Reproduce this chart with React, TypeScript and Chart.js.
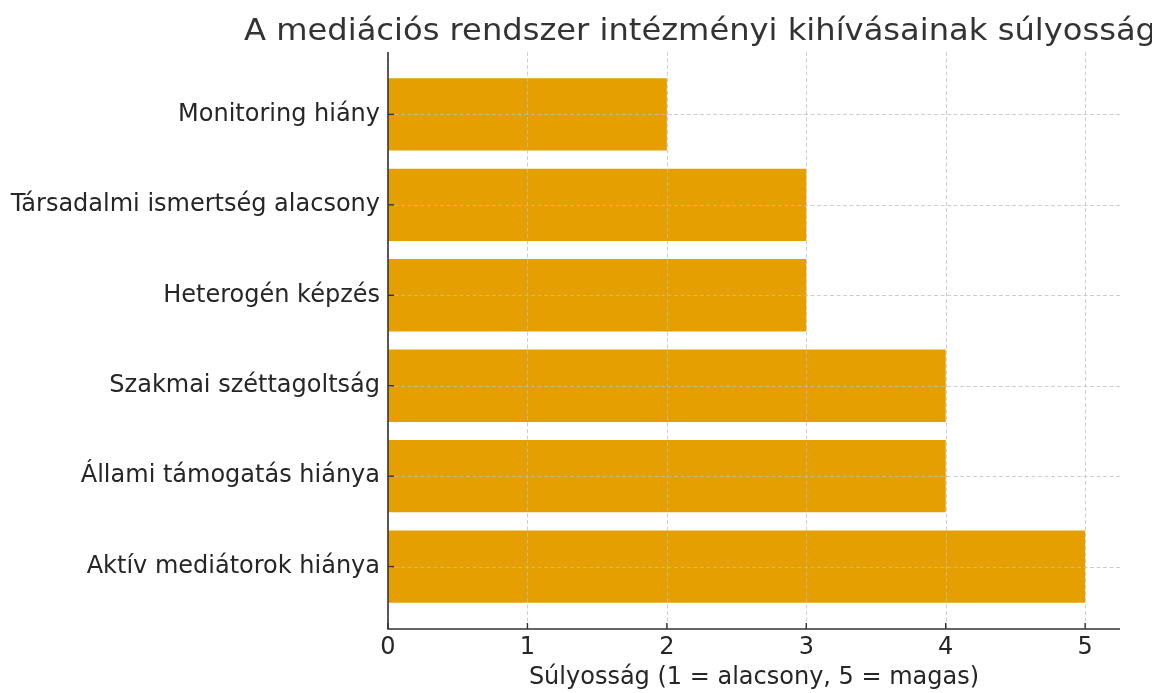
import React, { useEffect, useRef } from "react";
import { Chart, registerables } from "chart.js";

Chart.register(...registerables);

const categories = [
  "Monitoring hiány",
  "Társadalmi ismertség alacsony",
  "Heterogén képzés",
  "Szakmai széttagoltság",
  "Állami támogatás hiánya",
  "Aktív mediátorok hiánya",
];
const severity = [2, 3, 3, 4, 4, 5];
const xTickValues = [0, 1, 2, 3, 4, 5];
const titleText = "A mediációs rendszer intézményi kihívásainak súlyossága";
const xAxisTitle = "Súlyosság (1 = alacsony, 5 = magas)";

const FONT = "'DejaVu Sans', sans-serif";
const BAR_COLOR = "#E69F00";
const TEXT_COLOR = "#262626";

const overlayPlugin = {
  id: "overlay",
  afterDatasetsDraw(chart: any) {
    const { ctx, chartArea, scales } = chart;
    const xs = scales.x;
    const ys = scales.y;
    ctx.save();
    // dashed grid on top of bars
    ctx.strokeStyle = "rgba(190,190,190,0.75)";
    ctx.lineWidth = 1;
    ctx.setLineDash([4, 2.5]);
    xTickValues.forEach((v) => {
      const px = Math.round(xs.getPixelForValue(v)) + 0.5;
      ctx.beginPath();
      ctx.moveTo(px, chartArea.top);
      ctx.lineTo(px, chartArea.bottom);
      ctx.stroke();
    });
    categories.forEach((_, i) => {
      const py = Math.round(ys.getPixelForValue(i)) + 0.5;
      ctx.beginPath();
      ctx.moveTo(chartArea.left, py);
      ctx.lineTo(chartArea.right, py);
      ctx.stroke();
    });
    ctx.setLineDash([]);
    // spines
    ctx.strokeStyle = "#333333";
    ctx.lineWidth = 1.6;
    ctx.beginPath();
    ctx.moveTo(chartArea.left, chartArea.top);
    ctx.lineTo(chartArea.left, chartArea.bottom);
    ctx.lineTo(chartArea.right, chartArea.bottom);
    ctx.stroke();
    // inward ticks
    ctx.lineWidth = 1.4;
    xTickValues.forEach((v) => {
      const px = xs.getPixelForValue(v);
      ctx.beginPath();
      ctx.moveTo(px, chartArea.bottom);
      ctx.lineTo(px, chartArea.bottom - 6);
      ctx.stroke();
    });
    categories.forEach((_, i) => {
      const py = ys.getPixelForValue(i);
      ctx.beginPath();
      ctx.moveTo(chartArea.left, py);
      ctx.lineTo(chartArea.left + 6, py);
      ctx.stroke();
    });
    // title (clipped at right edge as in the reference)
    ctx.fillStyle = "#333333";
    ctx.font = `30px ${FONT}`;
    ctx.textAlign = "left";
    ctx.textBaseline = "alphabetic";
    const visible = titleText.slice(0, -1);
    const w = ctx.measureText(visible).width;
    const sx = 912 / w;
    ctx.translate(244, 40);
    ctx.scale(sx, 1);
    ctx.fillText(titleText, 0, 0);
    ctx.restore();
  },
};

export default function App() {
  const ref = useRef<HTMLCanvasElement | null>(null);
  useEffect(() => {
    document.body.style.margin = "0";
    const canvas = ref.current;
    if (!canvas) return;
    const chart = new Chart(canvas, {
      type: "bar",
      data: {
        datasets: [
          {
            data: severity.map((v, i) => ({ x: v, y: i })),
            backgroundColor: BAR_COLOR,
            borderWidth: 0,
            barPercentage: 0.8,
            categoryPercentage: 1.0,
          },
        ],
      },
      options: {
        indexAxis: "y",
        animation: false,
        responsive: false,
        maintainAspectRatio: false,
        devicePixelRatio: 1,
        layout: { padding: { top: 52, right: 32, left: 0, bottom: 0 } },
        plugins: {
          legend: { display: false },
          title: { display: false },
          tooltip: { enabled: false },
        },
        scales: {
          x: {
            type: "linear",
            min: 0,
            max: 5.25,
            offset: false,
            grid: { display: false, drawTicks: false },
            border: { display: false },
            afterBuildTicks: (scale: any) => {
              scale.ticks = xTickValues.map((v) => ({ value: v }));
            },
            afterFit: (scale: any) => {
              scale.height = 64;
            },
            ticks: {
              font: { family: FONT, size: 24 },
              color: TEXT_COLOR,
              padding: 4,
              maxRotation: 0,
              callback: (v: any) => String(v),
            },
            title: {
              display: true,
              text: xAxisTitle,
              font: { family: FONT, size: 24 },
              color: TEXT_COLOR,
              padding: { top: 0, bottom: 1 },
            },
          },
          y: {
            type: "linear",
            reverse: true,
            min: -0.69,
            max: 5.69,
            offset: false,
            grid: { display: false, drawTicks: false },
            border: { display: false },
            afterBuildTicks: (scale: any) => {
              scale.ticks = categories.map((_, i) => ({ value: i }));
            },
            afterFit: (scale: any) => {
              scale.width = 388;
            },
            ticks: {
              font: { family: FONT, size: 24 },
              color: TEXT_COLOR,
              padding: 8,
              callback: (v: any) => categories[v as number] ?? "",
            },
          },
        },
      },
      plugins: [overlayPlugin],
    } as any);
    return () => chart.destroy();
  }, []);
  return (
    <canvas
      ref={ref}
      width={1152}
      height={693}
      style={{ display: "block", width: "1152px", height: "693px" }}
    />
  );
}
